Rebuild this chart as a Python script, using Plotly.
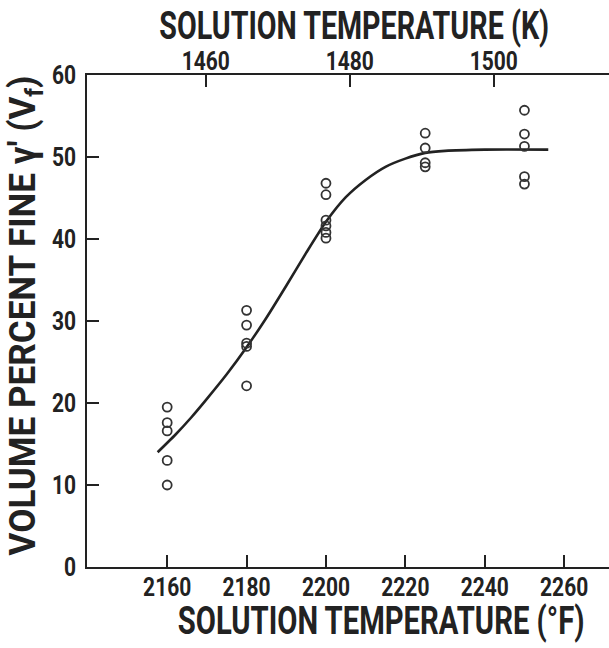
import plotly.graph_objects as go

# Measured points (°F, volume percent fine gamma')
temp_f = [2160, 2160, 2160, 2160, 2160,
          2180, 2180, 2180, 2180, 2180,
          2200, 2200, 2200, 2200, 2200, 2200,
          2225, 2225, 2225, 2225,
          2250, 2250, 2250, 2250, 2250]
vol_pct = [19.5, 17.6, 16.6, 13.0, 10.0,
           31.3, 29.5, 27.3, 26.9, 22.1,
           46.8, 45.4, 42.3, 41.6, 40.8, 40.1,
           52.9, 51.1, 49.3, 48.8,
           55.7, 52.8, 51.3, 47.6, 46.7]

# Fitted curve
curve_f = [2157.6, 2162, 2166, 2170, 2175, 2180, 2185, 2190, 2195, 2200,
           2205, 2210, 2215, 2220, 2225, 2230, 2240, 2256]
curve_v = [14.0, 16.1, 18.2, 20.5, 23.5, 26.8, 30.4, 34.3, 38.3, 42.1,
           45.1, 47.2, 48.8, 49.8, 50.5, 50.75, 50.9, 50.9]

f_ticks = [2160, 2180, 2200, 2220, 2240, 2260]
k_ticks = [1460, 1480, 1500]
y_ticks = [0, 10, 20, 30, 40, 50, 60]

FONT = "Roboto, Liberation Sans, DejaVu Sans, sans-serif"
INK = "#222222"

fig = go.Figure()
fig.add_trace(go.Scatter(x=curve_f, y=curve_v, mode="lines",
                         line=dict(color=INK, width=2.6, shape="spline", smoothing=0.6),
                         showlegend=False, hoverinfo="skip"))
fig.add_trace(go.Scatter(x=temp_f, y=vol_pct, mode="markers",
                         marker=dict(symbol="circle-open", size=9, color="#333333",
                                     line=dict(width=1.8, color="#333333")),
                         showlegend=False))
fig.add_trace(go.Scatter(x=[], y=[], xaxis="x2", showlegend=False))

axis_common = dict(showgrid=False, zeroline=False, showline=True, linecolor=INK,
                   linewidth=2, ticks="inside", ticklen=12, tickwidth=2, tickcolor=INK,
                   tickfont=dict(family=FONT, size=25, color=INK, weight="bold"))

W, H = 609, 648
L, R, T, B = 87, 0, 75, 81
pw, ph = W - L - R, H - T - B


def ann(text, px, py, size, angle=0):
    return dict(text=text, xref="paper", yref="paper",
                x=(px - L) / pw, y=(H - B - py) / ph,
                xanchor="center", yanchor="middle", showarrow=False, textangle=angle,
                font=dict(family=FONT, size=size, color=INK, weight="bold"))


fig.update_layout(
    width=W, height=H,
    margin=dict(l=L, r=R, t=T, b=B),
    plot_bgcolor="white", paper_bgcolor="white",
    xaxis=dict(range=[2139.8, 2271.3], tickvals=f_ticks, ticklabelstandoff=-3, **axis_common),
    xaxis2=dict(range=[1443.5, 1516.0], tickvals=k_ticks, overlaying="x", side="top",
                ticklabelstandoff=-7, **axis_common),
    yaxis=dict(range=[0, 60], tickvals=y_ticks, ticklabelstandoff=4, **axis_common),
    annotations=[
        ann("SOLUTION TEMPERATURE (°F)", 381, 621, 39),
        ann("SOLUTION TEMPERATURE (K)", 354, 26, 39),
        ann("VOLUME PERCENT FINE γ′ (V<sub>f</sub>)", 25, 316, 36, -90),
    ],
)

# Narrow (condensed) lettering like the original: compress glyphs horizontally.
post = r"""
(function(){
  document.body.style.margin = '0';
  function squeeze(){
    var gd = document.querySelector('.js-plotly-plot');
    if(!gd) return;
    gd.querySelectorAll('text').forEach(function(t){
      var old = t.getAttribute('transform') || '';
      if(old.indexOf('scale(') >= 0) return;
      var bb; try { bb = t.getBBox(); } catch(e) { return; }
      if(!bb || bb.width === 0) return;
      var k = 0.84;
      var cls = t.getAttribute('class') || '';
      if(cls.indexOf('annotation-text') >= 0){
        var txt = t.textContent;
        var tw = txt.indexOf('(K)') >= 0 ? 390 : (txt.indexOf('F)') >= 0 ? 407 : 480);
        k = tw / bb.width;
      }
      var anchor = t.getAttribute('text-anchor') || 'start';
      var cx = anchor === 'middle' ? bb.x + bb.width/2 : (anchor === 'end' ? bb.x + bb.width : bb.x);
      t.setAttribute('transform', old + ' translate(' + cx + ',0) scale(' + k + ',1) translate(' + (-cx) + ',0)');
    });
  }
  squeeze();
  var gd = document.querySelector('.js-plotly-plot');
  if(gd && gd.on) gd.on('plotly_afterplot', squeeze);
  setTimeout(squeeze, 200);
  setTimeout(squeeze, 800);
})();
"""

fig.write_html("out.html", post_script=post, config={"displayModeBar": False})
